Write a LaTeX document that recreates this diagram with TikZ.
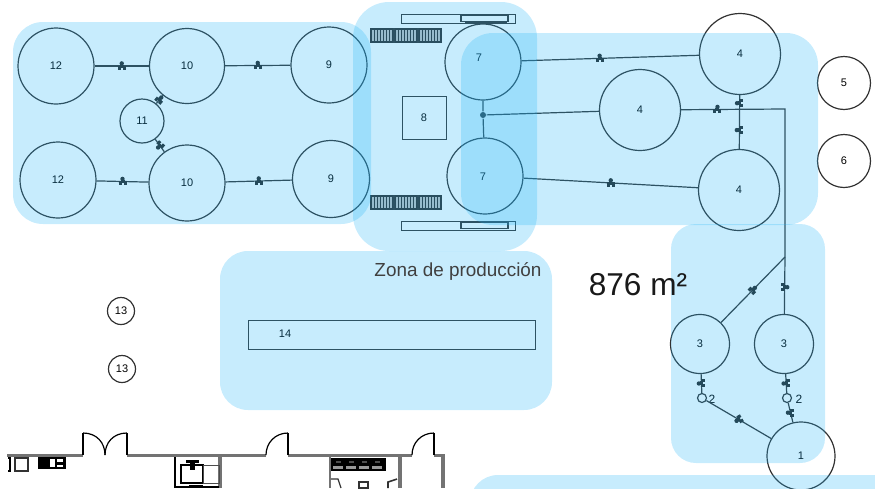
\documentclass[tikz,border=0pt]{standalone}
\usepackage{fontspec}
\setmainfont{Liberation Sans}
\definecolor{zonecol}{RGB}{31,179,247}
\definecolor{linecol}{RGB}{50,50,50}
\tikzset{
  tank/.style={draw=linecol,circle,line width=1.2pt,inner sep=0pt,font=\fontsize{11}{11}\selectfont},
  junc/.style={fill=linecol,circle,inner sep=0pt,minimum size=6pt},
  zone/.style={fill=zonecol,fill opacity=0.25,rounded corners=#1},
  wall/.style={draw=black!55,line width=3.4pt},
  valve/.pic={
    \fill[black!85] (0,-2.6) circle (2.2);
    \fill[black!85] (-4,3.6) rectangle (-1,-.5);
    \fill[black!85] (1,3.6) rectangle (4,-.5);
    \fill[black!85] (-2,-1.2) rectangle (2,1.6);
  }
}
\begin{document}
\begin{tikzpicture}[x=1pt,y=-1pt,line width=1.2pt,draw=linecol]
\clip (0,0) rectangle (875,488);
\node[tank,minimum size=76pt] (twelvea) at (56,66) {12};
\node[tank,minimum size=75pt] (tena) at (187,66) {10};
\node[tank,minimum size=76pt] (ninea) at (329,65) {9};
\node[tank,minimum size=44pt] (eleven) at (142,121) {11};
\node[tank,minimum size=76pt] (twelveb) at (58,180) {12};
\node[tank,minimum size=76pt] (tenb) at (187,183) {10};
\node[tank,minimum size=77pt] (nineb) at (331,179) {9};
\node[tank,minimum size=76pt] (sevena) at (483,62) {};
\node[font=\fontsize{11}{11}\selectfont] (sevenatxt) at (479,58) {7};
\node[tank,minimum size=76pt] (sevenb) at (485,176) {};
\node[font=\fontsize{11}{11}\selectfont] (sevenbtxt) at (483,177) {7};
\node[tank,minimum size=81pt] (foura) at (740,54) {4};
\node[tank,minimum size=81pt] (fourm) at (640,110) {4};
\node[tank,minimum size=81pt] (fourb) at (739,190) {4};
\node[tank,minimum size=53pt] (five) at (844,83) {5};
\node[tank,minimum size=53pt] (six) at (844,161) {6};
\node[tank,minimum size=27pt] (thirteena) at (121,311) {13};
\node[tank,minimum size=27pt] (thirteenb) at (122,369) {13};
\node[tank,minimum size=59pt] (threel) at (700,344) {3};
\node[tank,minimum size=59pt] (threer) at (784,344) {3};
\node[tank,minimum size=68pt] (one) at (801,456) {1};
\node[tank,minimum size=9pt] (twol) at (702,398) {};
\node[tank,minimum size=9pt] (twor) at (787,398) {};
\node[font=\fontsize{12}{12}\selectfont] (twoltxt) at (712,399) {2};
\node[font=\fontsize{12}{12}\selectfont] (twortxt) at (799,399) {2};
\node[junc] (jn) at (483,115) {};
\coordinate (corner) at (785,109);
\coordinate (branch) at (785,257);

\draw (twelvea) -- pic[pos=.5] {valve} (tena);
\draw (tena) -- pic[pos=.5] {valve} (ninea);
\draw (tena) -- pic[pos=.5,rotate=-40] {valve} (eleven);
\draw (eleven) -- pic[pos=.5,rotate=140] {valve} (tenb);
\draw (twelveb) -- pic[pos=.5] {valve} (tenb);
\draw (tenb) -- pic[pos=.5] {valve} (nineb);
\draw (sevena) -- (jn) -- (sevenb);
\draw (fourm) -- (jn);
\draw (sevena) -- pic[pos=.44] {valve} (foura);
\draw (sevenb) -- pic[pos=.5] {valve} (fourb);
\draw (foura) -- pic[pos=.15,rotate=90] {valve} pic[pos=.65,rotate=90] {valve} (fourb);
\draw (fourm) -- pic[pos=.35] {valve} (corner) -- (branch) -- pic[pos=.53,rotate=-90] {valve} (threer);
\draw (branch) -- pic[pos=.5,rotate=-45] {valve} (threel);
\draw (threel) -- pic[pos=.5,rotate=90] {valve} (twol);
\draw (threer) -- pic[pos=.5,rotate=90] {valve} (twor);
\draw (twol) -- pic[pos=.5,rotate=120] {valve} (one);
\draw (twor) -- pic[pos=.5,rotate=90] {valve} (one);

\node[draw,line width=.9pt,minimum width=44pt,minimum height=43pt,inner sep=0pt,font=\fontsize{11}{11}\selectfont] (eight) at (424,117.5) {8};
\draw[line width=.9pt] (248,320) rectangle (535,349);
\node[font=\fontsize{11}{11}\selectfont] (fourteen) at (285,334) {14};

% strips above and below the tanks 7
\foreach \y in {14,221}{
  \draw[line width=.9pt] (401,\y) rectangle (515,\y+9);
  \draw[line width=1.3pt] (461,\y+1) rectangle (508,\y+7.5);
}
\draw[line width=1.6pt] (465,22.5) -- (507,22.5);
\foreach \y in {28,195}{
  \fill[linecol!90!black] (370,\y) rectangle (442,\y+15);
  \foreach \i in {0,...,45}{
    \draw[white,line width=0.5pt,opacity=.7] (372+1.5*\i,\y+2) -- (372+1.5*\i,\y+13);
  }
  \draw[linecol,line width=1.5pt] (394,\y) -- (394,\y+15) (418,\y) -- (418,\y+15);
}

% plan
\draw[wall] (7,455.5) -- (83,455.5) (127,455.5) -- (266,455.5) (288,455.5) -- (412,455.5) (434,455.5) -- (443,455.5) -- (443,488);
\draw[wall] (220,457) -- (220,488) (400,457) -- (400,488);
\draw[line width=1.6pt,black] (83,455) -- (83,433) (127,455) -- (127,433) (288,455) -- (288,433) (434,455) -- (434,433);
\draw[black] (83,433) .. controls (97,433) and (105,443) .. (105,455);
\draw[black] (127,433) .. controls (113,433) and (105,443) .. (105,455);
\draw[black] (266,455) .. controls (266,443) and (275,433) .. (288,433);
\draw[black] (412,455) .. controls (412,443) and (421,433) .. (434,433);
\draw[black,line width=1.4pt] (8,458) -- (10,458) -- (10,471) -- (8,471);
\draw (15,458) rectangle (28,471);
\fill[black] (38,457) rectangle (66,469);
\fill[white] (50,459) rectangle (55,467);
\fill[white] (57,459) rectangle (63,462);
\fill[white] (57,465) rectangle (63,467);
\draw[black,line width=1.4pt] (175,457) -- (175,487) -- (219,487);
\draw[black,line width=1.8pt] (181,465) rectangle (203,483);
\draw[black!70,line width=.8pt] (203,465) rectangle (219,483);
\fill[black] (190,461) rectangle (195,470);
\fill[black] (186,460) rectangle (199,463);
\fill[black] (189,485) rectangle (203,488);
\fill[black] (331,458) rectangle (386,471);
\foreach \i in {0,1,2,3}{
  \fill[white,opacity=.6] (333+13*\i,466) rectangle (343+13*\i,468.5);
  \fill[white,opacity=.3] (336+13*\i,461) rectangle (341+13*\i,463);
}
\draw[black!55,line width=2.4pt] (330,457) -- (330,488);
\draw (331,479) -- (338,479) -- (341,488);
\draw (359,482) rectangle (368,488);
\draw[line width=1.6pt] (388,488) -- (388,482) -- (397,479);

% zones go over the drawing
\path[zone=30pt] (13,22) rectangle (371,224);
\path[zone=36pt] (353,2) rectangle (537,251);
\path[zone=32pt] (461,33) rectangle (818,225);
\path[zone=25pt] (671,224) rectangle (825,463);
\path[zone=28pt] (220,251) rectangle (552,410);
\path[zone=28pt] (470,475) rectangle (905,540);

\node[font=\fontsize{18.9}{19}\selectfont,text=black!75] (zonetxt) at (458,271) {Zona de producción};
\node[font=\fontsize{31.6}{32}\selectfont,text=black!90] (areatxt) at (638,285) {876 m²};
\end{tikzpicture}
\end{document}
